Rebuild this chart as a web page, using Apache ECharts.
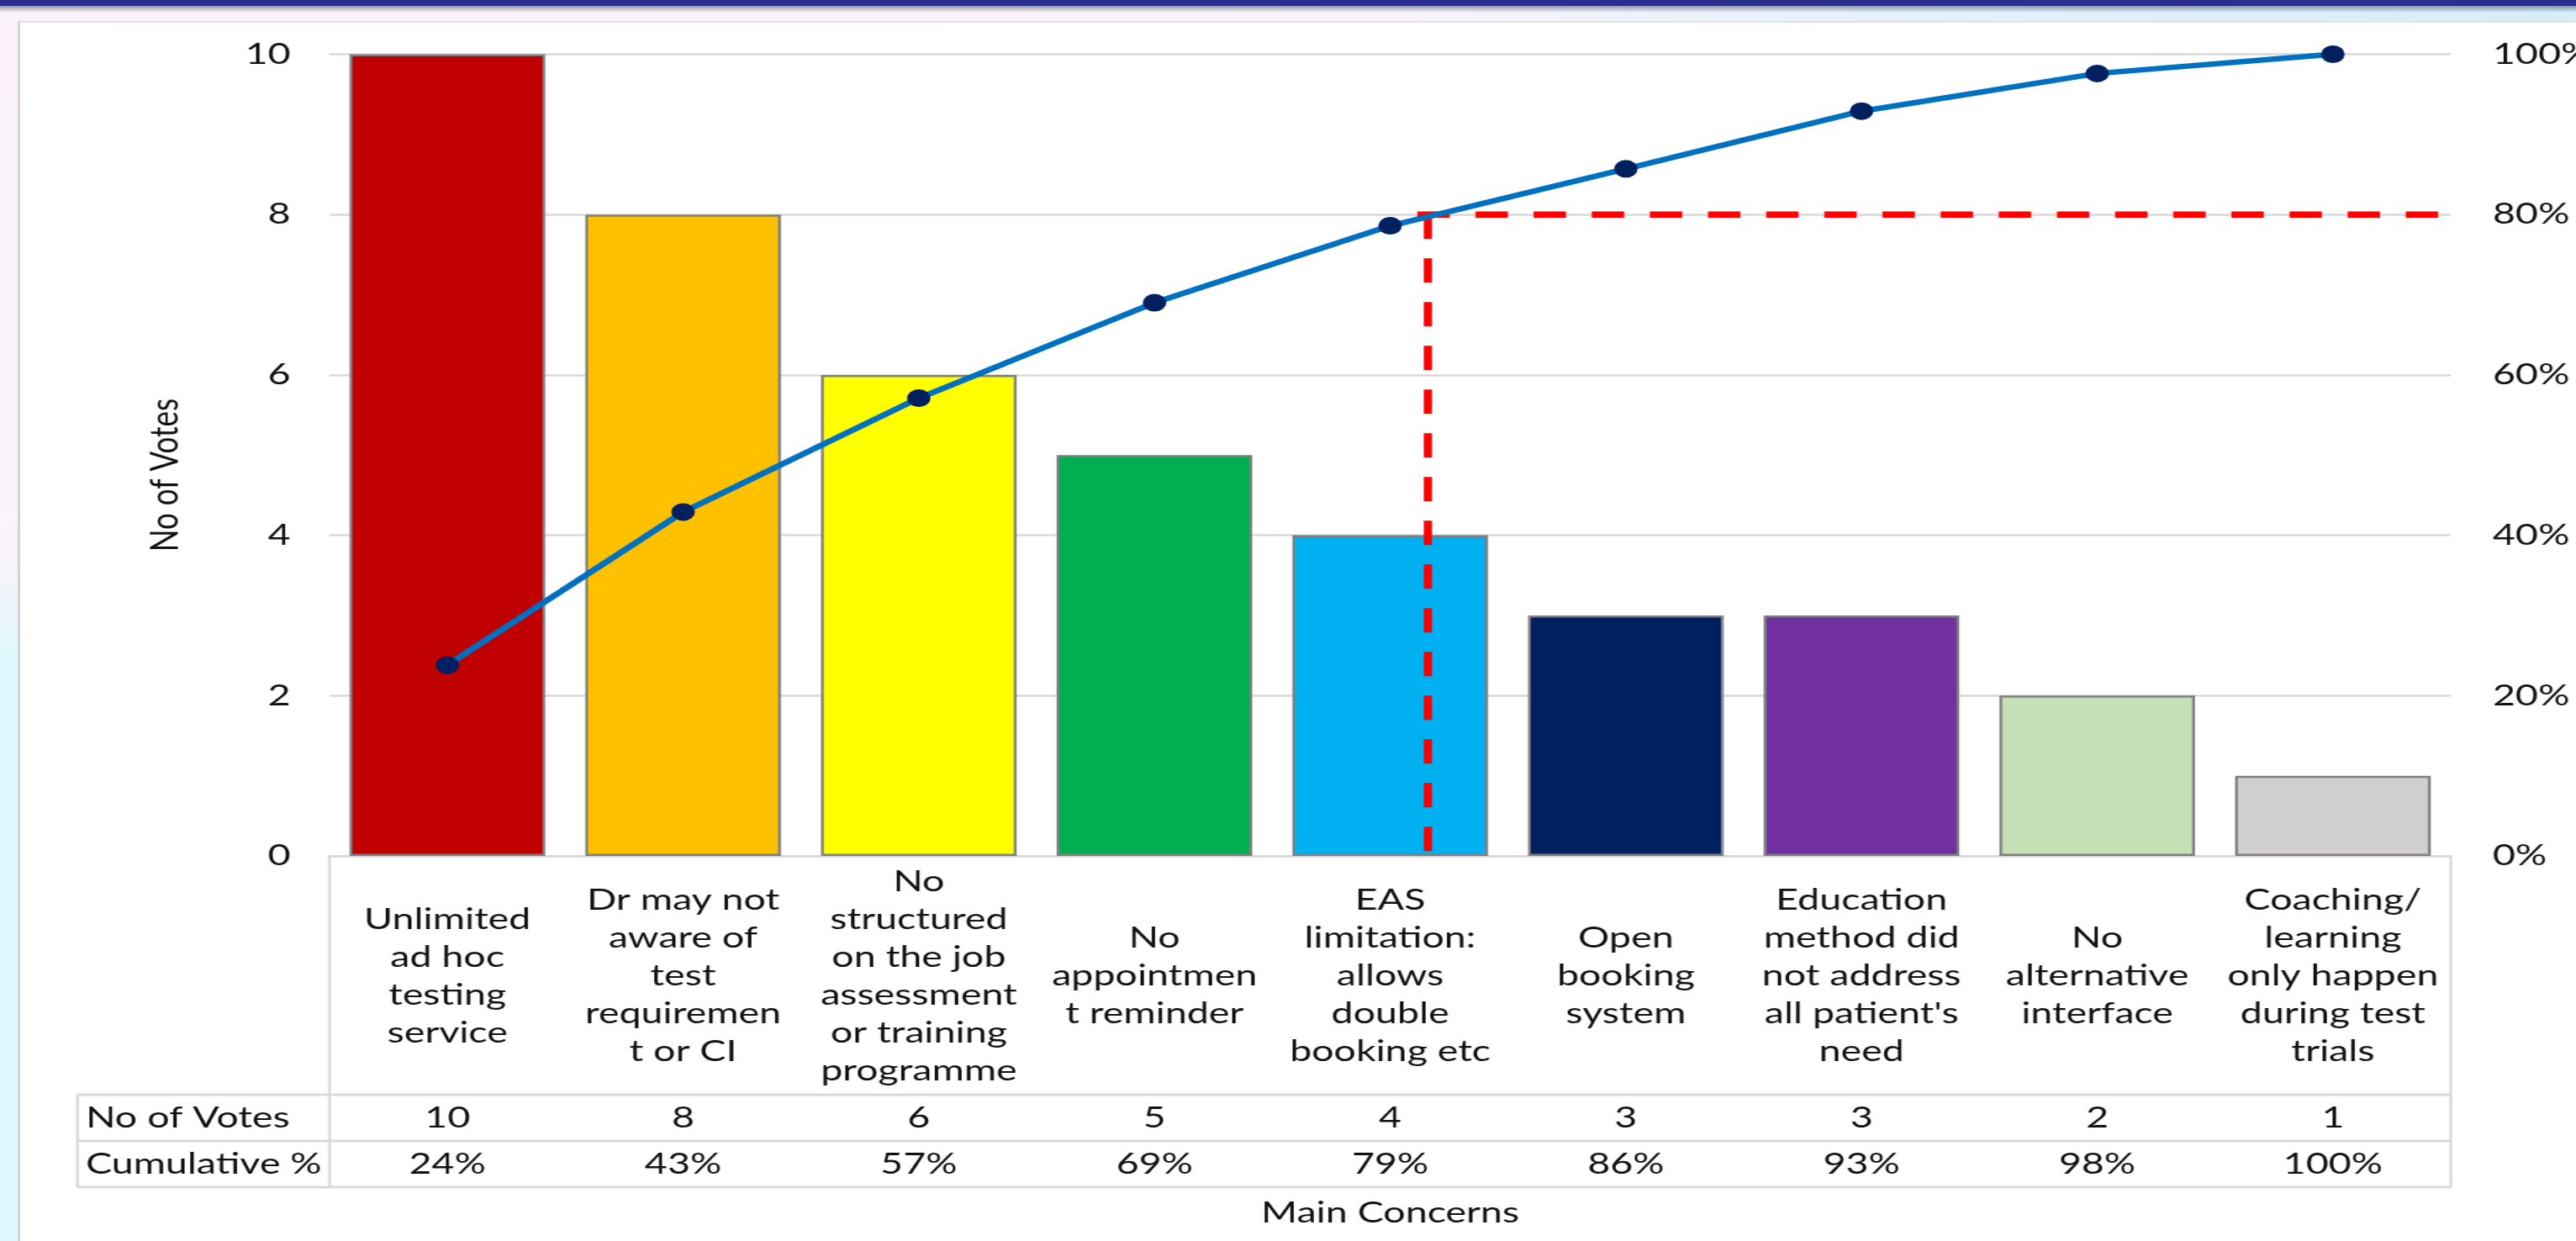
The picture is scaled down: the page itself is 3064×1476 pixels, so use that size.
<!DOCTYPE html>
<html>
<head>
<meta charset="utf-8">
<script src="https://cdn.jsdelivr.net/npm/echarts@6/dist/echarts.min.js"></script>
<style>
  html, body { margin: 0; padding: 0; }
  body { width: 3064px; height: 1476px; position: relative; overflow: hidden; background: #ffffff; }
  #topband { position: absolute; left: 0; top: 0; width: 3064px; height: 7px; background: #2a2e8e; }
  #band2 { position: absolute; left: 0; top: 7px; width: 3064px; height: 18px;
           background: linear-gradient(to right, #fbf3f9 0%, #f8f3fa 55%, #e3f1fa 75%, #d6edf9 100%); }
  #band2s { position: absolute; left: 0; top: 7px; width: 3064px; height: 8px;
           background: linear-gradient(to bottom, rgba(70,80,95,0.55), rgba(70,80,95,0)); }
  #leftstrip { position: absolute; left: 0; top: 25px; width: 21px; height: 1451px;
           background: linear-gradient(to bottom, #fcf3fa 0%, #fbf3fa 40%, #f7f4fa 45%, #dff8fd 52%, #dff8fd 100%); }
  #panel { position: absolute; left: 21px; top: 25px; width: 3043px; height: 1451px; background: #ffffff;
           border-left: 3px solid #d3d3d3; border-top: 2px solid #e2e2e2; box-sizing: border-box; }
  #chart { position: absolute; left: 0; top: 0; width: 2304px; height: 1476px;
           transform-origin: 0 0; transform: scaleX(1.33); }
</style>
</head>
<body>
<div id="topband"></div>
<div id="band2"></div>
<div id="band2s"></div>
<div id="leftstrip"></div>
<div id="panel"></div>
<div id="chart"></div>
<script>
// ---------------- data ----------------
const categories = [
  'Unlimited\nad hoc\ntesting\nservice',
  'Dr may not\naware of\ntest\nrequiremen\nt or CI',
  'No\nstructured\non the job\nassessment\nor training\nprogramme',
  'No\nappointmen\nt reminder',
  'EAS\nlimitation:\nallows\ndouble\nbooking etc',
  'Open\nbooking\nsystem',
  'Education\nmethod did\nnot address\nall patient\'s\nneed',
  'No\nalternative\ninterface',
  'Coaching/\nlearning\nonly happen\nduring test\ntrials'
];
const votes = [10, 8, 6, 5, 4, 3, 3, 2, 1];
const cumulativePct = [23.8, 42.9, 57.1, 69.0, 78.6, 85.7, 92.9, 97.6, 100];
const barColors = ['#C00000', '#FFC000', '#FFFF00', '#00B050', '#00B0F0', '#002060', '#7030A0', '#C5E0B4', '#D0CECE'];
const voteTicks = [0, 2, 4, 6, 8, 10];
const pctTicks = [0, 20, 40, 60, 80, 100];
const thresholdPct = 80;          // Pareto 80% cut-off
const thresholdCrossing = 4.16;   // category position where cumulative line meets 80%
const rowHeaders = ['No of Votes', 'Cumulative %'];
const yAxisTitle = 'No of Votes';
const xAxisTitle = 'Main Concerns';

// ---------------- layout (unstretched px; chart is scaled 1.33x horizontally) ----------------
const SX = 1.33;
const GL = 392 / SX, GR = 2915 / SX, GT = 64.5, GB = 1018;
const CW = 2304;
const TL = 92 / SX;
const ROW1 = 1302, ROW2 = 1357, TBOT = 1412, BOXTOP = 1019;
const FONT = 'Lato, "Open Sans", sans-serif';
const FS = 35;
const TXT = '#111111';
const LINEC = '#d9d9d9';

const voteLabels = votes.map(v => String(v));
const pctLabels = cumulativePct.map(v => Math.round(v) + '%');

const chart = echarts.init(document.getElementById('chart'), null, { renderer: 'canvas', width: CW, height: 1476 });

function hLine(x1, x2, y) { return { type: 'line', silent: true, shape: { x1: x1, y1: y, x2: x2, y2: y }, style: { stroke: LINEC, lineWidth: 3 } }; }
function vLine(x, y1, y2) { return { type: 'line', silent: true, shape: { x1: x, y1: y1, x2: x, y2: y2 }, style: { stroke: LINEC, lineWidth: 2.5 } }; }

const option = {
  animation: false,
  backgroundColor: 'transparent',
  grid: { left: GL, top: GT, width: GR - GL, height: GB - GT, containLabel: false, outerBoundsMode: 'none' },
  xAxis: [
    {
      type: 'category', data: categories, position: 'bottom',
      axisLine: { show: true, lineStyle: { color: LINEC, width: 3 } },
      axisTick: { show: false },
      axisLabel: { interval: 0, margin: 1161 - GB, verticalAlign: 'middle', align: 'center',
                   lineHeight: 45, fontSize: FS, fontFamily: FONT, color: TXT },
      name: xAxisTitle, nameLocation: 'middle', nameGap: 1443 - GB,
      nameTextStyle: { fontSize: FS, fontFamily: FONT, color: TXT, verticalAlign: 'middle' }
    },
    {
      type: 'category', data: voteLabels, position: 'bottom',
      axisLine: { show: false }, axisTick: { show: false },
      axisLabel: { interval: 0, margin: 1330 - GB, verticalAlign: 'middle', fontSize: FS, fontFamily: FONT, color: TXT }
    },
    {
      type: 'category', data: pctLabels, position: 'bottom',
      axisLine: { show: false }, axisTick: { show: false },
      axisLabel: { interval: 0, margin: 1385 - GB, verticalAlign: 'middle', fontSize: FS, fontFamily: FONT, color: TXT }
    },
    {
      type: 'value', min: -0.5, max: categories.length - 0.5, show: false
    }
  ],
  yAxis: [
    {
      type: 'value', min: voteTicks[0], max: voteTicks[voteTicks.length - 1], interval: voteTicks[1] - voteTicks[0],
      axisLine: { show: false }, axisTick: { show: false },
      splitLine: { show: true, lineStyle: { color: LINEC, width: 2.5 } },
      axisLabel: { margin: 35, fontSize: FS, fontFamily: FONT, color: TXT }
    },
    {
      type: 'value', position: 'right', min: pctTicks[0], max: pctTicks[pctTicks.length - 1], interval: pctTicks[1] - pctTicks[0],
      axisLine: { show: false }, axisTick: { show: false }, splitLine: { show: false },
      axisLabel: { margin: 2229.3 - GR, formatter: '{value}%', fontSize: FS, fontFamily: FONT, color: TXT }
    }
  ],
  series: [
    {
      type: 'bar', xAxisIndex: 0, yAxisIndex: 0, barCategoryGap: '17%',
      data: votes.map((v, i) => ({ value: v, itemStyle: { color: barColors[i] } })),
      itemStyle: { borderColor: '#7f7f7f', borderWidth: 2.5 },
      z: 2
    },
    {
      type: 'line', xAxisIndex: 3, yAxisIndex: 1,
      data: [[thresholdCrossing, thresholdPct], [thresholdCrossing, 0]],
      symbol: 'none', lineStyle: { color: '#FF0000', width: 7.5, type: [29, 23] }, z: 4
    },
    {
      type: 'line', xAxisIndex: 3, yAxisIndex: 1,
      data: [[thresholdCrossing - 0.045, thresholdPct], [categories.length - 0.5, thresholdPct]],
      symbol: 'none', lineStyle: { color: '#FF0000', width: 7.5, type: [29, 23] }, z: 4
    },
    {
      type: 'line', xAxisIndex: 0, yAxisIndex: 1, data: cumulativePct,
      symbol: 'circle', symbolSize: 21, showAllSymbol: true,
      lineStyle: { color: '#0070C0', width: 6.5 },
      itemStyle: { color: '#002060', borderWidth: 0 },
      z: 5
    }
  ],
  graphic: [
    hLine(TL, GR, ROW1), hLine(TL, GR, ROW2), hLine(TL, GR, TBOT),
    vLine(TL, ROW1, TBOT), vLine(GL, BOXTOP, TBOT), vLine(GR, BOXTOP, TBOT),
    { type: 'text', x: 102 / SX, y: (ROW1 + ROW2) / 2, silent: true,
      style: { text: rowHeaders[0], fontSize: FS, fontFamily: FONT, fill: TXT, align: 'left', verticalAlign: 'middle' } },
    { type: 'text', x: 102 / SX, y: (ROW2 + TBOT) / 2, silent: true,
      style: { text: rowHeaders[1], fontSize: FS, fontFamily: FONT, fill: TXT, align: 'left', verticalAlign: 'middle' } },
    { type: 'text', x: 196 / SX, y: 565, rotation: Math.PI / 2, silent: true,
      style: { text: yAxisTitle, fontSize: FS, fontFamily: FONT, fill: TXT, align: 'center', verticalAlign: 'middle' } }
  ]
};
chart.setOption(option);
</script>
</body>
</html>
